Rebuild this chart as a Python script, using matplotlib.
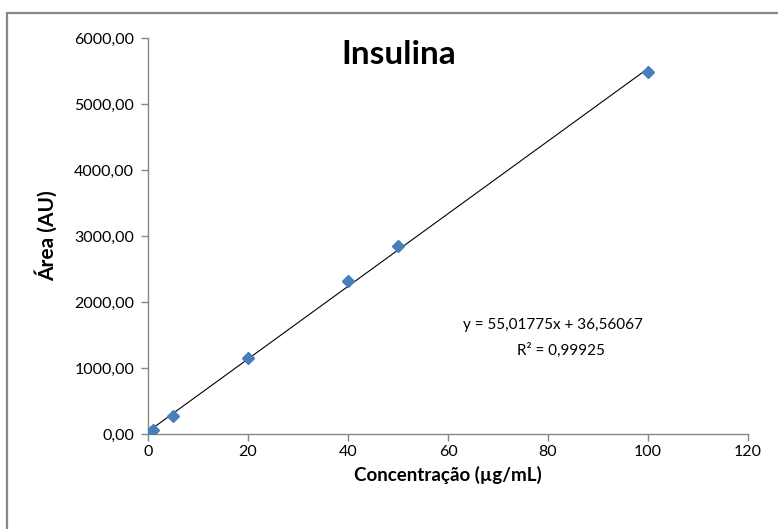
import matplotlib.pyplot as plt
import matplotlib.patches as mpatches
from matplotlib.ticker import FuncFormatter

# Calibration data
concentracao = [0.5, 1, 5, 20, 40, 50, 100]
area = [30, 60, 280, 1150, 2323, 2848, 5480]

# Trendline shown on the chart
slope = 55.01775
intercept = 36.56067
r2_label = "R² = 0,99925"
eq_label = "y = 55,01775x + 36,56067"

x_ticks = [0, 20, 40, 60, 80, 100, 120]
y_ticks = [0, 1000, 2000, 3000, 4000, 5000, 6000]

plt.rcParams["font.family"] = ["Lato", "DejaVu Sans"]

fig = plt.figure(figsize=(7.78, 5.29), dpi=100)
ax = fig.add_axes([148 / 778, 95 / 529, 600 / 778, 396 / 529])

# Outer chart frame (Excel style)
frame = mpatches.Rectangle(
    (7 / 778, -0.1), 1.2, (529 - 13) / 529 + 0.1,
    transform=fig.transFigure, fill=False, edgecolor="#878787", linewidth=1.6,
)
fig.patches.append(frame)

# Trendline
line_x = [0, 100]
line_y = [intercept + slope * v for v in line_x]
ax.plot(line_x, line_y, color="black", linewidth=0.8, zorder=2)

# Data points
ax.plot(
    concentracao, area, linestyle="none", marker="D", markersize=6.5,
    color="#4a7ebb", markeredgecolor="#4a7ebb", zorder=3,
)

ax.set_xlim(0, 120)
ax.set_ylim(0, 6000)
ax.set_xticks(x_ticks)
ax.set_yticks(y_ticks)
ax.yaxis.set_major_formatter(FuncFormatter(lambda v, p: f"{v:.2f}".replace(".", ",")))

for side in ["top", "right"]:
    ax.spines[side].set_visible(False)
for side in ["left", "bottom"]:
    ax.spines[side].set_color("#868686")
    ax.spines[side].set_linewidth(1.0)
ax.tick_params(direction="out", length=5, width=1.0, color="#868686",
               labelsize=11.5, labelcolor="black", pad=5)
ax.tick_params(axis="x", pad=3)

ax.set_xlabel("Concentração (µg/mL)", fontsize=13.5, fontweight="bold", labelpad=5)
ax.set_ylabel("Área (AU)", fontsize=15, fontweight="bold", labelpad=12)

fig.text(399 / 778, 1 - 55 / 529, "Insulina", fontsize=24, fontweight="bold",
         ha="center", va="center")

ax.text(81, 1650, eq_label, fontsize=11, ha="center", va="center")
ax.text(82.5, 1270, r2_label, fontsize=11, ha="center", va="center")

fig.savefig("out.png", dpi=100)
